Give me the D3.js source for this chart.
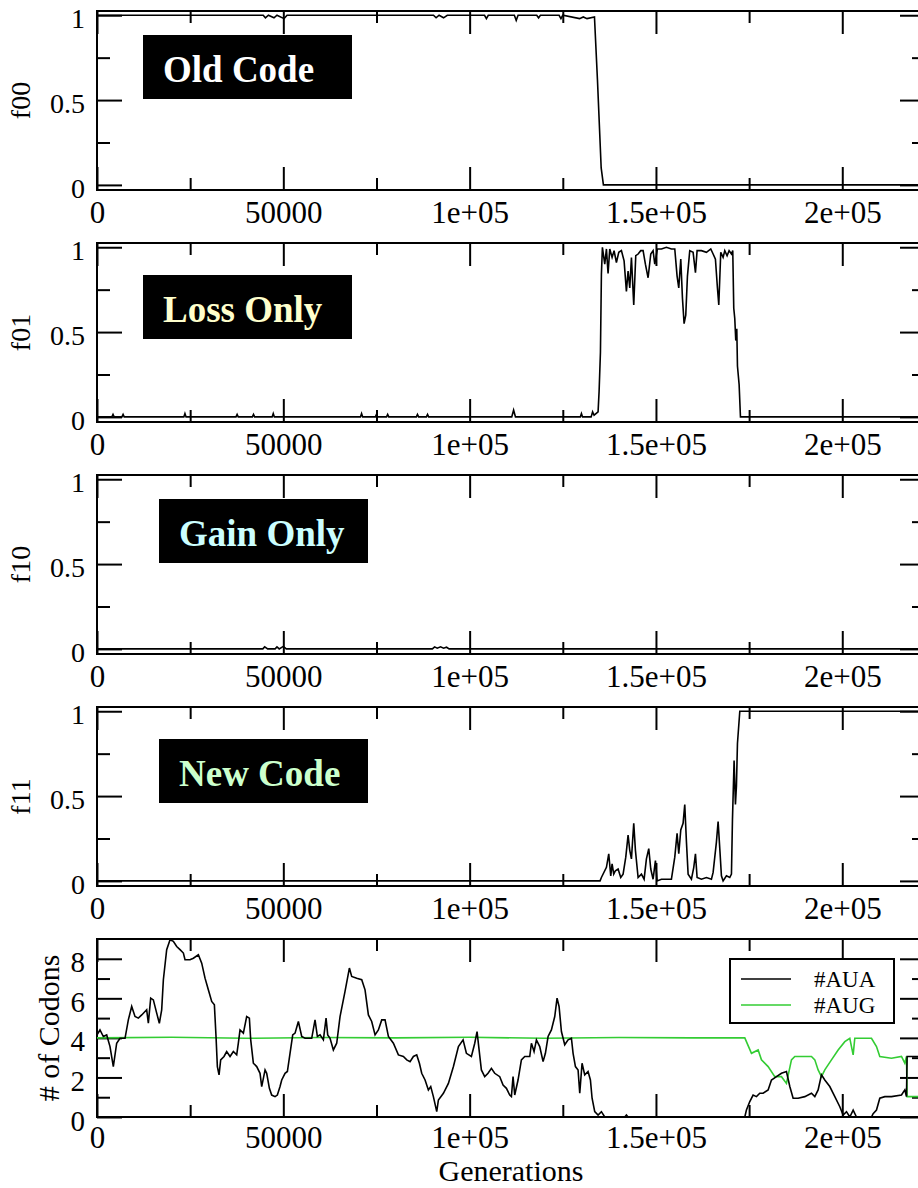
<!DOCTYPE html>
<html>
<head>
<meta charset="utf-8">
<script src="https://cdn.jsdelivr.net/npm/d3@7"></script>
<style>
  body { margin: 0; background: #fff; }
  svg { display: block; font-family: "Liberation Serif", "Times New Roman", serif; }
  .axis path.domain { display: none; }
  .axis line { stroke: #000; stroke-width: 2; }
  .axis text { fill: #000; font-family: "Liberation Serif", "Times New Roman", serif; }
</style>
</head>
<body>
<div id="chart"></div>
<script>
// ---- data ----
const xMajor = [0, 50000, 100000, 150000, 200000];
const xMinor = [25000, 75000, 125000, 175000];
const xLabels = ["0", "50000", "1e+05", "1.5e+05", "2e+05"];

const fMajor = [0, 0.5, 1];
const fMinor = [0.25, 0.75];
const fLabels = ["0", "0.5", "1"];

const cMajor = [0, 2, 4, 6, 8];
const cMinor = [1, 3, 5, 7];

const panelNames = ["f00", "f01", "f10", "f11"];
const boxLabels = ["Old Code", "Loss Only", "Gain Only", "New Code"];
const seriesNames = ["#AUA", "#AUG"];

// [generation, fraction]
const f00 = [[0,1],[44600,1],[45200,0.985],[46000,1],[47500,0.985],[48300,1],[50200,0.98],[51000,1],
  [90300,1],[91000,0.985],[91800,1],[93000,0.985],[94000,1],[104000,1],[104500,0.98],[105000,1],
  [112000,1],[112500,0.97],[113000,1],[118000,1],[118500,0.985],[119000,1],[124000,1],[124500,0.98],
  [125000,1],[129500,0.98],[130500,0.99],[131500,0.98],[133500,0.99],[134300,0.62],[135300,0.1],
  [135900,0],[222200,0]];

const f01 = [[0,0],[4000,0],[4300,0.015],[4600,0],[6700,0],[7000,0.015],[7300,0],[23300,0],[23600,0.02],
  [23900,0],[37300,0],[37600,0.015],[37900,0],[41700,0],[42000,0.015],[42300,0],[47000,0],[47300,0.02],
  [47600,0],[70700,0],[71000,0.02],[71300,0],[74700,0],[75000,0.015],[75300,0],[77700,0],[78000,0.015],
  [78300,0],[85700,0],[86000,0.015],[86300,0],[88400,0],[88700,0.015],[89000,0],[111300,0],[111800,0.04],
  [112300,0],[129700,0],[130000,0.02],[130300,0],[132600,0],[133000,0.03],[133400,0.01],[134470,0.03],
  [134740,0.15],[135100,0.38],[135360,0.84],[135630,1.0],[136260,0.9],[136710,0.99],[137150,0.845],
  [137600,0.99],[138230,0.94],[138760,0.98],[139390,0.91],[140020,0.97],[140730,0.98],[141450,0.92],
  [142070,0.74],[142520,0.86],[142970,0.76],[143420,0.94],[144040,0.66],[144580,0.95],[145210,0.96],
  [145920,0.98],[146550,0.98],[147170,0.9],[147890,0.82],[148610,0.96],[149230,0.98],[149680,0.9],
  [150390,0.99],[151470,0.99],[152810,1.0],[154150,0.99],[155050,0.99],[155670,0.83],[156120,0.76],
  [156660,0.93],[157110,0.7],[157550,0.55],[158000,0.6],[158450,0.83],[159070,0.98],[159970,0.97],
  [160600,0.85],[161040,0.98],[162200,0.98],[163550,0.97],[164710,0.99],[165340,0.96],[165960,0.93],
  [166500,0.76],[166860,0.66],[167390,0.97],[168020,0.94],[168470,0.98],[169090,0.95],[169630,0.98],
  [170260,0.96],[170610,0.98],[170880,0.64],[171150,0.58],[171420,0.45],[171690,0.52],[171870,0.3],
  [172320,0.19],[172680,0],[222200,0]];

const f10 = [[0,0],[44500,0],[45000,0.012],[45800,0],[47800,0],[48300,0.012],[48900,0],[50000,0.015],
  [50800,0],[90000,0],[90600,0.012],[91300,0.004],[92200,0.012],[93000,0.004],[93800,0.01],[94500,0],
  [222200,0]];

const f11 = [[0,0],[135000,0],[135360,0.02],[136710,0.08],[137330,0.16],[137870,0.03],[138230,0.1],
  [138670,0.04],[139120,0.06],[139840,0.07],[140550,0.02],[141180,0.04],[141900,0.14],[142520,0.27],
  [142970,0.18],[143420,0.13],[144040,0.34],[144490,0.18],[145210,0.02],[146100,0.04],[146820,0.01],
  [147440,0.13],[148070,0.19],[148610,0.07],[149230,0.01],[149860,0.12],[150310,0],[151470,0.01],
  [154150,0.01],[155050,0.14],[155670,0.28],[156120,0.16],[156660,0.3],[157280,0.34],[157730,0.45],
  [158180,0.23],[158630,0.04],[159520,0.01],[160150,0.08],[160600,0.16],[161040,0.02],[162200,0.01],
  [163550,0.02],[164890,0.01],[165340,0.05],[166230,0.23],[166680,0.35],[167130,0.19],[167570,0.03],
  [168020,0],[168910,0.03],[169810,0.02],[170260,0.04],[170530,0.36],[170970,0.71],[171330,0.45],
  [171600,0.56],[171870,0.81],[172500,1.0],[222200,1.0]];

// [generation, number of codons]
const aua = [[0,4.15],[800,4.4],[1700,4.07],[2600,4.15],[3490,3.56],[4380,2.55],[5280,3.73],[6170,3.98],
  [7520,3.98],[8410,4.91],[9310,5.59],[10200,5.08],[11100,5.0],[12000,5.16],[13330,5.42],[13780,4.74],
  [14410,6.01],[15120,5.92],[16020,5.25],[16730,4.74],[17360,5.42],[17810,6.94],[18700,8.46],[19600,8.96],
  [20490,8.88],[21390,8.62],[22280,8.46],[23180,8.29],[23620,7.95],[24960,7.95],[25860,8.03],[27200,8.2],
  [28100,7.78],[28990,7.02],[29880,6.43],[30780,5.84],[31500,5.67],[31940,4.07],[32300,2.55],[32750,2.13],
  [33190,2.89],[34090,3.06],[34800,3.31],[35700,3.06],[36590,3.31],[37490,3.14],[37930,3.73],[38380,4.4],
  [39280,4.24],[40170,5.08],[40890,5.0],[41250,3.9],[41960,2.72],[42860,2.55],[43750,2.21],[44200,1.54],
  [45100,2.38],[45540,2.21],[46260,1.45],[46880,1.11],[47780,1.03],[48400,1.11],[49120,1.54],[49570,1.87],
  [50460,2.21],[51090,2.3],[51800,3.22],[52520,4.15],[53150,4.24],[54040,4.83],[54940,4.07],[55830,3.98],
  [57620,3.98],[58510,4.91],[59140,4.07],[59860,4.15],[60750,3.9],[61470,5.0],[61910,4.15],[62540,3.98],
  [63430,3.39],[64330,3.73],[65220,5.08],[66560,6.35],[67730,7.53],[68350,7.11],[69700,7.02],[71040,6.94],
  [71930,6.43],[72830,5.16],[73720,4.83],[74620,4.15],[75510,4.4],[76410,4.91],[77300,4.91],[78200,4.07],
  [79540,3.73],[80880,3.14],[82220,3.06],[83120,2.89],[84010,2.8],[84910,3.06],[85800,3.14],[86520,2.72],
  [87140,2.21],[88040,1.87],[88930,1.37],[89560,1.54],[90270,1.03],[91170,0.27],[91620,0.86],[92960,1.2],
  [94300,1.7],[95650,2.55],[96990,3.56],[98240,3.9],[99130,3.22],[100470,3.06],[101370,3.73],[101990,4.32],
  [102440,3.56],[103150,2.38],[104050,2.04],[104940,2.21],[105840,2.46],[106730,2.21],[108080,2.04],
  [108970,1.62],[109870,1.45],[110760,1.11],[111210,1.03],[111650,2.04],[112100,1.11],[112990,1.87],
  [113890,2.89],[114790,3.06],[116130,3.06],[116580,3.73],[117290,3.31],[117920,3.9],[118810,3.56],
  [119710,2.8],[120330,3.22],[121050,4.07],[121940,4.4],[122840,5.08],[123460,6.01],[124000,5.59],
  [124630,4.32],[125520,3.65],[126420,3.9],[127310,3.98],[127760,3.22],[128390,2.55],[129100,2.38],
  [129550,1.2],[130170,2.72],[130890,2.13],[131780,2.3],[132410,1.87],[132860,0.95],[133570,0.27],
  [134470,0.1],[135360,0.27],[136260,0],[141630,0],[142070,0.1],[142520,0],[173840,0],[174280,0.35],
  [175180,0.78],[176070,1.11],[176970,1.03],[177860,1.2],[178760,1.2],[180100,1.37],[181000,1.87],
  [182340,2.04],[183680,2.21],[185020,2.3],[185920,1.54],[186810,0.95],[188150,0.95],[189940,1.03],
  [191730,1.2],[192630,1.03],[193520,1.37],[194420,2.13],[195310,1.87],[196650,1.54],[198000,1.03],
  [199340,0.52],[200230,0.1],[201130,0.27],[202020,0],[202920,0.35],[203810,0],[207840,0],[208280,0.17],
  [209180,0.35],[210070,0.95],[211410,1.03],[213200,1.03],[215890,1.11],[216780,1.37],[217230,1.03],
  [217400,3.06],[222200,3.06]];

const aug = [[0,4.0],[20000,4.03],[40000,3.98],[60000,4.02],[80000,4.0],[100000,4.03],[120000,3.98],
  [140000,4.02],[160000,4.0],[173840,4.0],[175630,3.22],[177420,3.39],[178310,2.89],[180100,2.55],
  [181890,2.04],[183680,2.04],[185020,1.7],[186360,2.89],[187260,3.06],[191730,3.06],[192630,2.89],
  [193520,2.38],[194420,2.04],[195310,2.38],[197100,2.89],[198890,3.39],[200680,3.81],[202020,3.98],
  [202920,3.14],[203360,3.98],[207840,3.98],[209180,3.56],[210070,3.06],[213200,2.97],[215890,3.06],
  [216780,2.72],[217230,3.06],[217400,1.03],[222200,1.03]];

// ---- layout ----
const W = 918, H = 1188;
const L = 97, R = 925;
const PANEL_STEP = 232, PANEL_TOP = 11;
const boxes = [
  {x: 143, dy: 24, color: "#ffffff"},
  {x: 143, dy: 32, color: "#ffffcc"},
  {x: 159, dy: 24, color: "#ccffff"},
  {x: 159, dy: 32, color: "#ccffcc"}
];

const svg = d3.select("#chart").append("svg")
  .attr("width", W)
  .attr("height", H);

const x = d3.scaleLinear().domain([0, 222200]).range([L, R]);

function framedPanel(id, top, h, y, yMajor, yMinor, yLabels, yFont, xPad) {
  const g = svg.append("g").attr("class", "panel");

  g.append("clipPath").attr("id", "clip-" + id)
    .append("rect")
    .attr("x", L).attr("y", top)
    .attr("width", R - L).attr("height", h);

  // bottom + top
  g.append("g").attr("class", "axis")
    .attr("transform", "translate(0," + (top + h) + ")")
    .call(d3.axisBottom(x).tickValues(xMajor)
      .tickFormat((d, i) => xLabels[i])
      .tickSizeInner(-23).tickSizeOuter(0).tickPadding(xPad))
    .attr("font-family", null)
    .attr("font-size", 31);
  g.append("g").attr("class", "axis")
    .attr("transform", "translate(0," + (top + h) + ")")
    .call(d3.axisBottom(x).tickValues(xMinor).tickFormat("").tickSize(-12));
  g.append("g").attr("class", "axis")
    .attr("transform", "translate(0," + top + ")")
    .call(d3.axisTop(x).tickValues(xMajor).tickFormat("").tickSize(-23));
  g.append("g").attr("class", "axis")
    .attr("transform", "translate(0," + top + ")")
    .call(d3.axisTop(x).tickValues(xMinor).tickFormat("").tickSize(-12));

  // left + right
  g.append("g").attr("class", "axis")
    .attr("transform", "translate(" + L + ",0)")
    .call(d3.axisLeft(y).tickValues(yMajor)
      .tickFormat((d, i) => yLabels[i])
      .tickSizeInner(-25).tickSizeOuter(0).tickPadding(12))
    .attr("font-family", null)
    .attr("font-size", yFont)
    .selectAll("text").attr("dy", "0.45em");
  g.append("g").attr("class", "axis")
    .attr("transform", "translate(" + L + ",0)")
    .call(d3.axisLeft(y).tickValues(yMinor).tickFormat("").tickSize(-13));
  g.append("g").attr("class", "axis")
    .attr("transform", "translate(" + R + ",0)")
    .call(d3.axisRight(y).tickValues(yMajor).tickFormat("").tickSize(-25));
  g.append("g").attr("class", "axis")
    .attr("transform", "translate(" + R + ",0)")
    .call(d3.axisRight(y).tickValues(yMinor).tickFormat("").tickSize(-13));

  g.append("rect")
    .attr("x", L).attr("y", top)
    .attr("width", R - L).attr("height", h)
    .style("fill", "none")
    .style("stroke", "#000")
    .style("stroke-width", 2);

  return g;
}

// ---- four fraction panels ----
[f00, f01, f10, f11].forEach(function(data, i) {
  const top = PANEL_TOP + PANEL_STEP * i, h = 179;
  const y = d3.scaleLinear().domain([-0.03, 1.025]).range([top + h, top]);
  const g = framedPanel(panelNames[i], top, h, y, fMajor, fMinor, fLabels, 28, 11);

  const line = d3.line()
    .x(function(d) { return x(d[0]); })
    .y(function(d) { return y(d[1]); });

  g.append("path")
    .datum(data)
    .attr("clip-path", "url(#clip-" + panelNames[i] + ")")
    .style("fill", "none")
    .style("stroke", "#000")
    .style("stroke-width", 1.6)
    .attr("d", line);

  g.append("text")
    .attr("transform", "translate(20," + (top + h / 2) + ") rotate(-90)")
    .attr("text-anchor", "middle")
    .attr("dy", "0.35em")
    .style("font-size", "28px")
    .text(panelNames[i]);

  const b = boxes[i];
  g.append("rect")
    .attr("x", b.x).attr("y", top + b.dy)
    .attr("width", 209).attr("height", 64)
    .style("fill", "#000");
  g.append("text")
    .attr("x", b.x + 20).attr("y", top + b.dy + 47)
    .style("font-size", "37px")
    .style("font-weight", "bold")
    .style("fill", b.color)
    .text(boxLabels[i]);
});

// ---- codon counts panel ----
(function() {
  const top = PANEL_TOP + PANEL_STEP * 4, h = 178;
  const y = d3.scaleLinear().domain([0, 9]).range([top + h, top]);
  const g = framedPanel("codons", top, h, y, cMajor, cMinor, cMajor.map(String), 29, 9);

  const line = d3.line()
    .x(function(d) { return x(d[0]); })
    .y(function(d) { return y(d[1]); });

  g.append("path")
    .datum(aug)
    .attr("clip-path", "url(#clip-codons)")
    .style("fill", "none")
    .style("stroke", "#33cc33")
    .style("stroke-width", 1.6)
    .attr("d", line);
  g.append("path")
    .datum(aua)
    .attr("clip-path", "url(#clip-codons)")
    .style("fill", "none")
    .style("stroke", "#000")
    .style("stroke-width", 1.6)
    .attr("d", line);

  g.append("text")
    .attr("transform", "translate(48," + (top + h / 2) + ") rotate(-90)")
    .attr("text-anchor", "middle")
    .attr("dy", "0.35em")
    .style("font-size", "30px")
    .text("# of Codons");

  g.append("text")
    .attr("x", (L + R) / 2).attr("y", 1181)
    .attr("text-anchor", "middle")
    .style("font-size", "30px")
    .text("Generations");

  // legend
  const lg = g.append("g").attr("transform", "translate(730,959)");
  lg.append("rect")
    .attr("width", 164).attr("height", 64)
    .style("fill", "#fff")
    .style("stroke", "#000")
    .style("stroke-width", 2);
  [["#000", 20], ["#33cc33", 46]].forEach(function(s, i) {
    lg.append("line")
      .attr("x1", 11).attr("x2", 61)
      .attr("y1", s[1]).attr("y2", s[1])
      .style("stroke", s[0])
      .style("stroke-width", 1.6);
    lg.append("text")
      .attr("x", 84).attr("y", s[1] + 8)
      .style("font-size", "23px")
      .text(seriesNames[i]);
  });
})();
</script>
</body>
</html>
